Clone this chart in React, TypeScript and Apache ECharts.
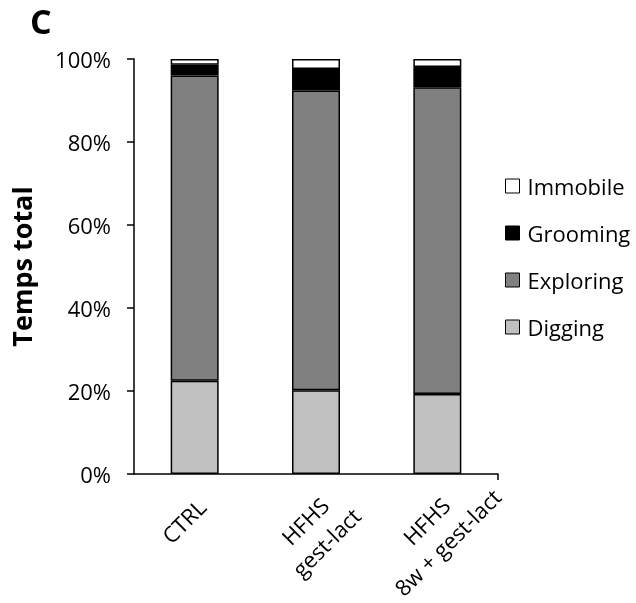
import React, { useEffect, useRef } from "react";
import * as echarts from "echarts";

const categories = ["CTRL", "HFHS\ngest-lact", "HFHS\n8w + gest-lact"];
const digging = [22.5, 20.2, 19.3];
const exploring = [73.5, 72.2, 73.9];
const grooming = [2.6, 5.2, 4.9];
const immobile = [1.4, 2.4, 1.9];
const yTicks = { min: 0, max: 100, interval: 20 };

const FONT = "'Open Sans', 'Noto Sans', sans-serif";

export default function App() {
  const ref = useRef<HTMLDivElement>(null);
  useEffect(() => {
    if (!ref.current) return;
    const chart = echarts.init(ref.current, undefined, { renderer: "svg" });
    const barBase = {
      type: "bar" as const,
      stack: "total",
      barWidth: 48,
      itemStyle: { borderColor: "#000", borderWidth: 1.5 },
    };
    chart.setOption({
      animation: false,
      textStyle: { fontFamily: FONT, color: "#000" },
      title: {
        text: "C",
        left: 30,
        top: 4,
        padding: 0,
        textStyle: { fontFamily: FONT, fontSize: 34, fontWeight: "bold", color: "#000" },
      },
      legend: {
        orient: "vertical",
        left: 505,
        top: 175,
        padding: 0,
        itemWidth: 14,
        itemHeight: 14,
        itemGap: 25,
        icon: "rect",
        data: ["Immobile", "Grooming", "Exploring", "Digging"],
        textStyle: { fontFamily: FONT, fontSize: 22, color: "#000", padding: [0, 0, 0, 3] },
        itemStyle: { borderColor: "#000", borderWidth: 1 },
      },
      grid: {
        left: 134,
        right: 138,
        top: 59,
        bottom: 129,
        containLabel: false,
        outerBoundsMode: "none",
      },
      xAxis: [
        {
          type: "category",
          data: categories,
          axisLine: { lineStyle: { color: "#000", width: 1.5 } },
          axisTick: { alignWithLabel: true, length: 6, lineStyle: { color: "#000", width: 1.5 } },
          axisLabel: {
            rotate: 45,
            margin: 10,
            align: "center",
            verticalAlign: "top",
            padding: [3, 68, 0, 0],
            formatter: (v: string) => v.split("\n").map((l) => `{c|${l}}`).join("\n"),
            rich: {
              c: { align: "center", fontFamily: FONT, fontSize: 22, color: "#000", lineHeight: 30 },
            },
          },
        },
        {
          type: "value",
          position: "bottom",
          min: 0,
          max: categories.length,
          axisLine: { show: false },
          axisLabel: { show: false },
          splitLine: { show: false },
          axisTick: {
            show: true,
            customValues: [categories.length],
            length: 6,
            lineStyle: { color: "#000", width: 1.5 },
          },
        },
      ],
      yAxis: {
        type: "value",
        min: yTicks.min,
        max: yTicks.max,
        interval: yTicks.interval,
        name: "Temps total",
        nameLocation: "middle",
        nameGap: 99,
        nameTextStyle: { fontFamily: FONT, fontSize: 27, fontWeight: "bold", color: "#000" },
        splitLine: { show: false },
        axisLine: { show: true, lineStyle: { color: "#000", width: 1.5 } },
        axisTick: { show: true, length: 7, lineStyle: { color: "#000", width: 1.5 } },
        axisLabel: {
          formatter: "{value}%",
          fontFamily: FONT,
          fontSize: 22,
          color: "#000",
          margin: 23,
        },
      },
      series: [
        { ...barBase, name: "Digging", data: digging, itemStyle: { ...barBase.itemStyle, color: "#C0C0C0" } },
        { ...barBase, name: "Exploring", data: exploring, itemStyle: { ...barBase.itemStyle, color: "#808080" } },
        { ...barBase, name: "Grooming", data: grooming, itemStyle: { ...barBase.itemStyle, color: "#000000" } },
        { ...barBase, name: "Immobile", data: immobile, itemStyle: { ...barBase.itemStyle, color: "#FFFFFF" } },
      ],
    });
    return () => chart.dispose();
  }, []);
  return (
    <div
      ref={ref}
      style={{ position: "fixed", left: 0, top: 0, width: 636, height: 603 }}
    />
  );
}
